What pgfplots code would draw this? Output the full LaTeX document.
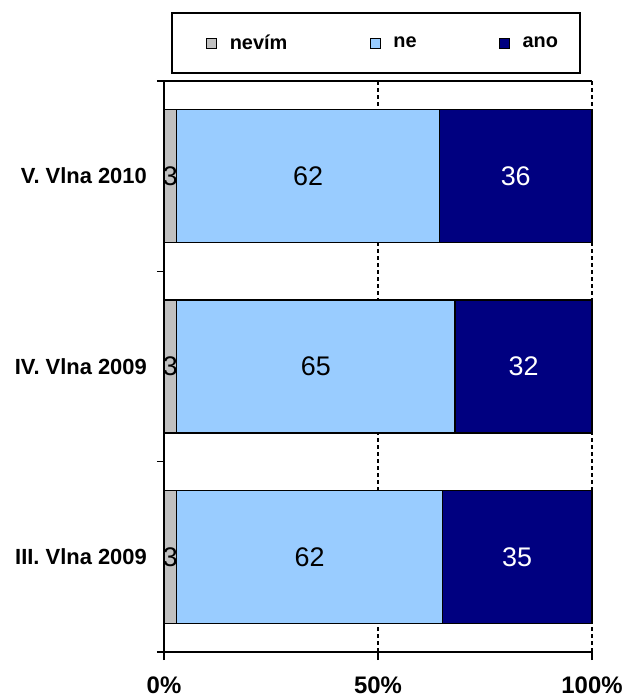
\documentclass[border=0pt]{standalone}
\usepackage{pgfplots}
\pgfplotsset{compat=1.18}
\usepackage{pgfplotstable}
\usepackage{fontspec}
\setmainfont{Liberation Sans}
\definecolor{cnevim}{HTML}{C0C0C0}
\definecolor{cne}{HTML}{99CCFF}
\definecolor{cano}{HTML}{000080}
\pgfplotstableread{
cat nevim ne ano mnevim mne mano
0 3 62 35 3 62 35
1 3 65 32 3 65 32
2 2.97 61.39 35.64 3 62 36
}\data
\begin{document}
\begin{tikzpicture}
\begin{axis}[name=ax,
  scale only axis, width=428bp, height=571bp,
  xbar stacked, bar width=0.7,
  xmin=0, xmax=100, ymin=-0.5, ymax=2.5,
  axis x line*=bottom, axis y line*=left,
  axis line style={line width=1.6bp, black},
  tick align=outside,
  tick style={line width=1.6bp, black},
  major tick length=8bp, minor tick length=7bp,
  xtick={0,50,100}, xticklabels={0\%,50\%,100\%},
  xmajorgrids, grid style={black, line width=1.3bp, dash pattern=on 4bp off 3bp},
  ytick={0,1,2}, yticklabels={III. Vlna 2009, IV. Vlna 2009, V. Vlna 2010},
  major y tick style={draw=none},
  minor ytick={-0.5,0.5,1.5,2.5},
  x tick label style={font=\bfseries\fontsize{24}{24}\selectfont, inner sep=0pt},
  xticklabel shift=17bp,
  y tick label style={font=\bfseries\fontsize{22}{22}\selectfont, inner sep=0pt},
  yticklabel shift=9bp,
  point meta=explicit symbolic,
  nodes near coords,
  every node near coord/.append style={font=\fontsize{27}{27}\selectfont, anchor=center},
  clip=false,
  legend columns=3,
  legend image code/.code={\path[draw=none,fill=none] (-17bp,0) -- (19bp,0);\draw[#1, draw=black, line width=1bp] (0bp,-5bp) rectangle (10bp,5bp);},
  legend style={at={(0,1)}, anchor=south west, xshift=7bp, yshift=7bp,
    draw=black, line width=1.6bp, inner xsep=18bp, inner ysep=18bp,
    font=\bfseries\fontsize{20}{20}\selectfont,
    nodes={inner sep=4bp},
    /tikz/every even column/.append style={column sep=62bp}},
]
\addplot[fill=cnevim, draw=black, line width=1.3bp]
  table[x=nevim, y=cat, meta=mnevim] {\data};
\addplot[fill=cne, draw=black, line width=1.3bp]
  table[x=ne, y=cat, meta=mne] {\data};
\addplot[fill=cano, draw=black, line width=1.3bp,
  every node near coord/.append style={text=white}]
  table[x=ano, y=cat, meta=mano] {\data};
\legend{nevím, ne, ano}
\draw[line width=1.6bp] (rel axis cs:0,1) -- (rel axis cs:1,1);
\end{axis}
\path (ax.south west) ++(-164bp,-48bp) rectangle ++(631bp,700bp);
\end{tikzpicture}
\end{document}
